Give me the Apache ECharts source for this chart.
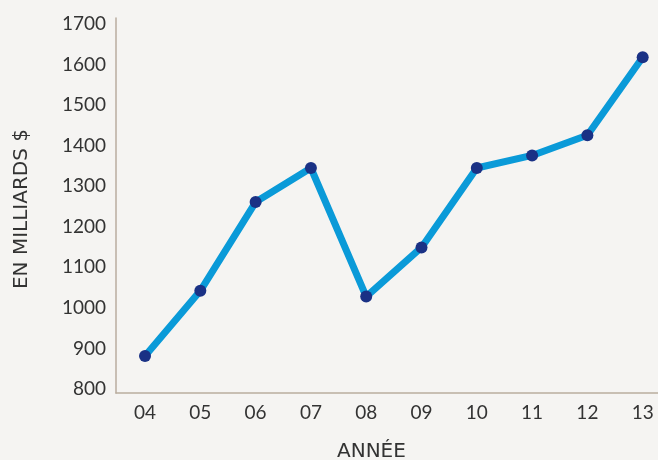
<!DOCTYPE html>
<html>
<head>
<meta charset="utf-8">
<script src="https://cdn.jsdelivr.net/npm/echarts@6/dist/echarts.min.js"></script>
<style>
html,body{margin:0;padding:0;background:#f5f4f2;}
#c{width:658px;height:460px;}
</style>
</head>
<body>
<div id="c"></div>
<script>
const categories = ['04','05','06','07','08','09','10','11','12','13'];
const values = [881, 1042, 1261, 1345, 1028, 1149, 1345, 1376, 1426, 1618];
const yTicks = [800, 900, 1000, 1100, 1200, 1300, 1400, 1500, 1600, 1700];
const xTitle = 'ANNÉE';
const yTitle = 'EN MILLIARDS $';

const chart = echarts.init(document.getElementById('c'), null, {renderer: 'canvas'});
const tickFont = {color: '#333333', fontSize: 19, fontFamily: 'Lato'};
chart.setOption({
  backgroundColor: '#f5f4f2',
  animation: false,
  grid: {left: 116, right: 0, top: 18, bottom: 67, containLabel: false},
  xAxis: {
    type: 'value',
    min: -0.525, max: 9.277,
    splitLine: {show: false},
    axisTick: {show: false},
    axisLine: {onZero: false, lineStyle: {color: '#b9ad9f', width: 1.5}},
    axisLabel: Object.assign({
      customValues: categories.map((c, i) => i),
      margin: 10,
      formatter: v => categories[Math.round(v)]
    }, tickFont)
  },
  yAxis: {
    type: 'value',
    min: 790, max: 1715,
    splitLine: {show: false},
    axisTick: {show: false},
    axisLine: {show: true, onZero: false, lineStyle: {color: '#b9ad9f', width: 1.5}},
    axisLabel: Object.assign({
      customValues: yTicks,
      margin: 10,
      formatter: v => String(v)
    }, tickFont)
  },
  graphic: [
    {type: 'text', x: 337, y: 452,
     style: {text: xTitle, fill: '#333333', font: 'normal 20px DejaVu Sans', verticalAlign: 'middle'}},
    {type: 'text', x: 22, y: 209, rotation: Math.PI / 2,
     style: {text: yTitle, fill: '#333333', font: 'normal 20px DejaVu Sans', align: 'center', verticalAlign: 'middle'}}
  ],
  series: [{
    type: 'line',
    data: values.map((v, i) => [i, v]),
    lineStyle: {color: '#0a9ad8', width: 7},
    symbol: 'circle',
    symbolSize: 12,
    itemStyle: {color: '#1a3185', borderWidth: 0},
    z: 3
  }]
});
</script>
</body>
</html>
